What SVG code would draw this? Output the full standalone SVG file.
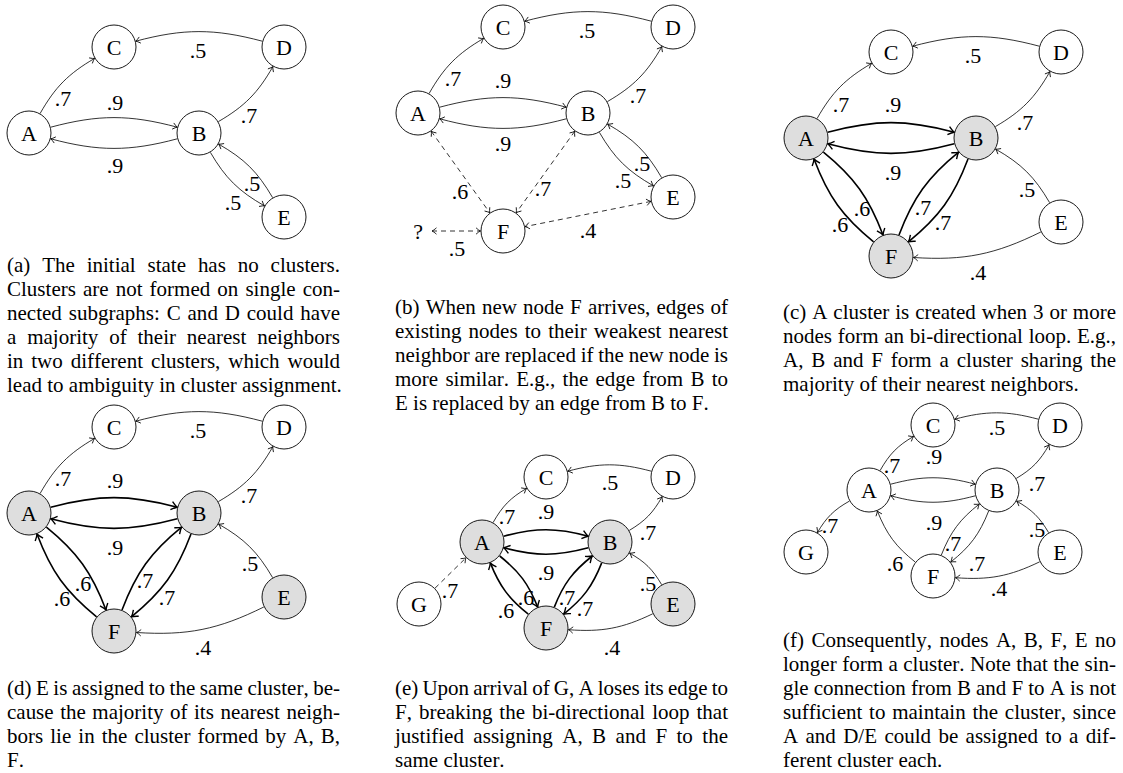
<svg xmlns="http://www.w3.org/2000/svg" width="1123" height="773" viewBox="0 0 1123 773">
<defs>
<marker id="ar" markerUnits="userSpaceOnUse" orient="auto" markerWidth="12" markerHeight="12" refX="0" refY="0" overflow="visible"><path d="M-4.5,-3.2 Q-1.6,-0.6 0,0 Q-1.6,0.6 -4.5,3.2" fill="none" stroke="#000" stroke-width="0.8"/></marker>
<marker id="arS" markerUnits="userSpaceOnUse" orient="auto-start-reverse" markerWidth="12" markerHeight="12" refX="0" refY="0" overflow="visible"><path d="M-4.5,-3.2 Q-1.6,-0.6 0,0 Q-1.6,0.6 -4.5,3.2" fill="none" stroke="#000" stroke-width="0.8"/></marker>
<marker id="arT" markerUnits="userSpaceOnUse" orient="auto" markerWidth="14" markerHeight="14" refX="0" refY="0" overflow="visible"><path d="M-6,-4.2 Q-2.2,-0.9 0,0 Q-2.2,0.9 -6,4.2" fill="none" stroke="#000" stroke-width="1.4"/></marker>
</defs>
<style>
.n circle{stroke:#000;stroke-width:0.9;fill:#fff}
.n.g circle{fill:#dedede}
.n text,.lb{font-family:"Liberation Serif","Times New Roman",serif;font-size:22px;text-anchor:middle;fill:#000}
.e{fill:none;stroke:#000;stroke-width:0.8;marker-end:url(#ar)}
.t{stroke-width:1.6;marker-end:url(#arT)}
.d{stroke-dasharray:5 4;marker-start:url(#arS);marker-end:url(#arS)}
.d1{stroke-dasharray:5 4}
.cap{font-family:"Liberation Serif","Times New Roman",serif;font-size:21px;fill:#000;font-kerning:none}
</style>

<!-- Panel (a) -->
<g id="panel-a" transform="translate(114,47)">
<g id="a-edges">
<path class="e" d="M148.3,-5.8 C100.4,-18.6 69.5,-18.6 21.7,-5.8"/>
<path class="e" d="M-73.9,66.5 C-58.9,40.1 -45.6,26.7 -19.4,11.4"/>
<path class="e" d="M-63.3,80.2 C-15.5,67.4 15.5,67.4 63.3,80.2"/>
<path class="e" d="M63.3,91.8 C15.5,104.6 -15.5,104.6 -63.3,91.8"/>
<path class="e" d="M104.4,74.6 C130.6,59.3 143.9,45.9 158.9,19.6"/>
<path class="e" d="M96.4,105.4 C111.4,131.1 124.6,144.1 150.5,158.9"/>
<path class="e" d="M158.6,150.6 C143.6,124.9 130.5,111.9 104.6,97.1"/>
<text class="lb" x="84" y="10.5">.5</text>
<text class="lb" x="-51" y="58.5">.7</text>
<text class="lb" x="1" y="62.5">.9</text>
<text class="lb" x="1" y="125.5">.9</text>
<text class="lb" x="135" y="75.5">.7</text>
<text class="lb" x="119" y="162.5">.5</text>
<text class="lb" x="138" y="143.5">.5</text>
</g>
<g id="a-C" class="n"><circle cx="0" cy="0" r="22"/><text x="0" y="7.5">C</text></g>
<g id="a-D" class="n"><circle cx="170" cy="0" r="22"/><text x="170" y="7.5">D</text></g>
<g id="a-A" class="n"><circle cx="-85" cy="86" r="22"/><text x="-85" y="93.5">A</text></g>
<g id="a-B" class="n"><circle cx="85" cy="86" r="22"/><text x="85" y="93.5">B</text></g>
<g id="a-E" class="n"><circle cx="170" cy="170" r="22"/><text x="170" y="177.5">E</text></g>
</g>

<!-- Panel (b) -->
<g id="panel-b" transform="translate(503,27)">
<g id="b-edges">
<path class="e" d="M148.3,-5.8 C100.4,-18.6 69.5,-18.6 21.7,-5.8"/>
<path class="e" d="M-73.9,66.5 C-58.9,40.1 -45.6,26.7 -19.4,11.4"/>
<path class="e" d="M-63.3,80.2 C-15.5,67.4 15.5,67.4 63.3,80.2"/>
<path class="e" d="M63.3,91.8 C15.5,104.6 -15.5,104.6 -63.3,91.8"/>
<path class="e" d="M104.4,74.6 C130.6,59.3 143.9,45.9 158.9,19.6"/>
<path class="e" d="M96.4,105.4 C111.4,131.1 124.6,144.1 150.5,158.9"/>
<path class="e" d="M158.6,150.6 C143.6,124.9 130.5,111.9 104.6,97.1"/>
<path class="e d" d="M-71.8,104.2 L-13.2,185.8"/>
<path class="e d" d="M71.8,104.2 L13.2,185.8"/>
<path class="e d" d="M148,174.4 L22,199.6"/>
<path class="e d" d="M-71,204 L-22.5,204"/>
<text class="lb" x="84" y="10.5">.5</text>
<text class="lb" x="-50" y="58.5">.7</text>
<text class="lb" x="0" y="60.5">.9</text>
<text class="lb" x="0" y="123.5">.9</text>
<text class="lb" x="135" y="75.5">.7</text>
<text class="lb" x="120" y="160.5">.5</text>
<text class="lb" x="139" y="143.5">.5</text>
<text class="lb" x="-43" y="171.5">.6</text>
<text class="lb" x="40" y="168.5">.7</text>
<text class="lb" x="85" y="210.5">.4</text>
<text class="lb" x="-46" y="228.5">.5</text>
<text class="lb" x="-85" y="211.5">?</text>
</g>
<g id="b-C" class="n"><circle cx="0" cy="0" r="22"/><text x="0" y="7.5">C</text></g>
<g id="b-D" class="n"><circle cx="170" cy="0" r="22"/><text x="170" y="7.5">D</text></g>
<g id="b-A" class="n"><circle cx="-85" cy="86" r="22"/><text x="-85" y="93.5">A</text></g>
<g id="b-B" class="n"><circle cx="85" cy="86" r="22"/><text x="85" y="93.5">B</text></g>
<g id="b-E" class="n"><circle cx="170" cy="170" r="22"/><text x="170" y="177.5">E</text></g>
<g id="b-F" class="n"><circle cx="0" cy="204" r="22"/><text x="0" y="211.5">F</text></g>
</g>

<!-- Panel (c) -->
<g id="panel-c" transform="translate(891,52)">
<g id="c-edges">
<path class="e" d="M148.3,-5.8 C100.4,-18.6 69.5,-18.6 21.7,-5.8"/>
<path class="e" d="M-73.9,66.5 C-58.9,40.1 -45.6,26.7 -19.4,11.4"/>
<path class="e t" d="M-63.3,80.2 C-15.5,67.4 15.5,67.4 63.3,80.2"/>
<path class="e t" d="M63.3,91.8 C15.5,104.6 -15.5,104.6 -63.3,91.8"/>
<path class="e" d="M104.4,74.6 C130.6,59.3 143.9,45.9 158.9,19.6"/>
<path class="e" d="M158.6,150.6 C143.6,124.9 130.5,111.9 104.6,97.1"/>
<path class="e" d="M149.8,180 C104.2,202.5 73.3,208.8 22.5,205.5"/>
<path class="e t" d="M-67.6,100.2 C-36.6,125.4 -22.2,145.7 -8,183"/>
<path class="e t" d="M-17.4,189.8 C-48.4,164.6 -62.9,144.4 -77,107"/>
<path class="e t" d="M8,183 C22.2,145.7 36.6,125.4 67.6,100.2"/>
<path class="e t" d="M77,107 C62.9,144.4 48.4,164.6 17.4,189.8"/>
<text class="lb" x="82" y="10.5">.5</text>
<text class="lb" x="-50" y="59.5">.7</text>
<text class="lb" x="2" y="59.5">.9</text>
<text class="lb" x="2" y="127.5">.9</text>
<text class="lb" x="134" y="77.5">.7</text>
<text class="lb" x="136" y="144.5">.5</text>
<text class="lb" x="87" y="227.5">.4</text>
<text class="lb" x="-29" y="163.5">.6</text>
<text class="lb" x="-51" y="179.5">.6</text>
<text class="lb" x="32" y="162.5">.7</text>
<text class="lb" x="52" y="177.5">.7</text>
</g>
<g id="c-C" class="n"><circle cx="0" cy="0" r="22"/><text x="0" y="7.5">C</text></g>
<g id="c-D" class="n"><circle cx="170" cy="0" r="22"/><text x="170" y="7.5">D</text></g>
<g id="c-A" class="n g"><circle cx="-85" cy="86" r="22"/><text x="-85" y="93.5">A</text></g>
<g id="c-B" class="n g"><circle cx="85" cy="86" r="22"/><text x="85" y="93.5">B</text></g>
<g id="c-E" class="n"><circle cx="170" cy="170" r="22"/><text x="170" y="177.5">E</text></g>
<g id="c-F" class="n g"><circle cx="0" cy="204" r="22"/><text x="0" y="211.5">F</text></g>
</g>

<!-- Panel (d) -->
<g id="panel-d" transform="translate(114,427)">
<g id="d-edges">
<path class="e" d="M148.3,-5.8 C100.4,-18.6 69.5,-18.6 21.7,-5.8"/>
<path class="e" d="M-73.9,66.5 C-58.9,40.1 -45.6,26.7 -19.4,11.4"/>
<path class="e t" d="M-63.3,80.2 C-15.5,67.4 15.5,67.4 63.3,80.2"/>
<path class="e t" d="M63.3,91.8 C15.5,104.6 -15.5,104.6 -63.3,91.8"/>
<path class="e" d="M104.4,74.6 C130.6,59.3 143.9,45.9 158.9,19.6"/>
<path class="e" d="M158.6,150.6 C143.6,124.9 130.5,111.9 104.6,97.1"/>
<path class="e" d="M149.8,180 C104.2,202.5 73.3,208.8 22.5,205.5"/>
<path class="e t" d="M-67.6,100.2 C-36.6,125.4 -22.2,145.7 -8,183"/>
<path class="e t" d="M-17.4,189.8 C-48.4,164.6 -62.9,144.4 -77,107"/>
<path class="e t" d="M8,183 C22.2,145.7 36.6,125.4 67.6,100.2"/>
<path class="e t" d="M77,107 C62.9,144.4 48.4,164.6 17.4,189.8"/>
<text class="lb" x="84" y="10.5">.5</text>
<text class="lb" x="-51" y="58.5">.7</text>
<text class="lb" x="1" y="60.5">.9</text>
<text class="lb" x="1" y="127.5">.9</text>
<text class="lb" x="135" y="75.5">.7</text>
<text class="lb" x="136" y="143.5">.5</text>
<text class="lb" x="89" y="227.5">.4</text>
<text class="lb" x="-31" y="163.5">.6</text>
<text class="lb" x="-52" y="178.5">.6</text>
<text class="lb" x="31" y="160.5">.7</text>
<text class="lb" x="53" y="177.5">.7</text>
</g>
<g id="d-C" class="n"><circle cx="0" cy="0" r="22"/><text x="0" y="7.5">C</text></g>
<g id="d-D" class="n"><circle cx="170" cy="0" r="22"/><text x="170" y="7.5">D</text></g>
<g id="d-A" class="n g"><circle cx="-85" cy="86" r="22"/><text x="-85" y="93.5">A</text></g>
<g id="d-B" class="n g"><circle cx="85" cy="86" r="22"/><text x="85" y="93.5">B</text></g>
<g id="d-E" class="n g"><circle cx="170" cy="170" r="22"/><text x="170" y="177.5">E</text></g>
<g id="d-F" class="n g"><circle cx="0" cy="204" r="22"/><text x="0" y="211.5">F</text></g>
</g>

<!-- Panel (e) -->
<g id="panel-e" transform="translate(546,477)">
<g id="e-edges">
<path class="e" d="M105.3,-5.8 C73.7,-14.3 53.3,-14.3 21.7,-5.8"/>
<path class="e" d="M-52.9,45.5 C-43.6,29.2 -35.6,20.8 -19.4,11.4"/>
<path class="e t" d="M-42.3,59.2 C-10.3,50.6 10.3,50.6 42.3,59.2"/>
<path class="e t" d="M42.3,70.8 C10.3,79.4 -10.3,79.4 -42.3,70.8"/>
<path class="e" d="M83.3,53.4 C99.1,44 107.1,35.8 116.1,19.7"/>
<path class="e" d="M115.6,107.6 C106.7,92.4 98.9,84.7 83.6,76.1"/>
<path class="e" d="M106.7,136.8 C76.4,151.4 56,155.2 22.5,152.7"/>
<path class="e t" d="M-46.3,79 C-26.8,94.4 -17.5,106.9 -8.3,130.1"/>
<path class="e t" d="M-17.7,137.1 C-37.2,121.6 -46.5,109.1 -55.7,85.9"/>
<path class="e t" d="M8.3,130.1 C17.5,106.9 26.8,94.4 46.3,79"/>
<path class="e t" d="M55.7,85.9 C46.5,109.1 37.2,121.6 17.7,137.1"/>
<path class="e d1" d="M-111,111.2 L-80,80.8"/>
<text class="lb" x="64" y="12.5">.5</text>
<text class="lb" x="-39" y="46.5">.7</text>
<text class="lb" x="0" y="41.5">.9</text>
<text class="lb" x="0" y="102.5">.9</text>
<text class="lb" x="102" y="62.5">.7</text>
<text class="lb" x="102" y="113.5">.5</text>
<text class="lb" x="-96" y="120.5">.7</text>
<text class="lb" x="-20" y="127.5">.6</text>
<text class="lb" x="-40" y="140.5">.6</text>
<text class="lb" x="21" y="127.5">.7</text>
<text class="lb" x="39" y="138.5">.7</text>
<text class="lb" x="66" y="177.5">.4</text>
</g>
<g id="e-C" class="n"><circle cx="0" cy="0" r="22"/><text x="0" y="7.5">C</text></g>
<g id="e-D" class="n"><circle cx="127" cy="0" r="22"/><text x="127" y="7.5">D</text></g>
<g id="e-A" class="n g"><circle cx="-64" cy="65" r="22"/><text x="-64" y="72.5">A</text></g>
<g id="e-B" class="n g"><circle cx="64" cy="65" r="22"/><text x="64" y="72.5">B</text></g>
<g id="e-E" class="n g"><circle cx="127" cy="127" r="22"/><text x="127" y="134.5">E</text></g>
<g id="e-F" class="n g"><circle cx="0" cy="151" r="22"/><text x="0" y="158.5">F</text></g>
<g id="e-G" class="n"><circle cx="-127" cy="127" r="22"/><text x="-127" y="134.5">G</text></g>
</g>

<!-- Panel (f) -->
<g id="panel-f" transform="translate(933,425)">
<g id="f-edges">
<path class="e" d="M105.3,-5.8 C73.7,-14.3 53.3,-14.3 21.7,-5.8"/>
<path class="e" d="M-52.9,45.5 C-43.6,29.2 -35.6,20.8 -19.4,11.4"/>
<path class="e" d="M-42.3,59.2 C-10.3,50.6 10.3,50.6 42.3,59.2"/>
<path class="e" d="M42.3,70.8 C10.3,79.4 -10.3,79.4 -42.3,70.8"/>
<path class="e" d="M83.3,53.4 C99.1,44 107.1,35.8 116.1,19.7"/>
<path class="e" d="M115.6,107.6 C106.7,92.4 98.9,84.7 83.6,76.1"/>
<path class="e" d="M106.7,136.8 C76.4,151.4 56,155.2 22.5,152.7"/>
<path class="e" d="M-17.7,137.1 C-37.2,121.6 -46.5,109.1 -55.7,85.9"/>
<path class="e" d="M8.3,130.1 C17.5,106.9 26.8,94.4 46.3,79"/>
<path class="e" d="M55.7,85.9 C46.5,109.1 37.2,121.6 17.7,137.1"/>
<path class="e" d="M-83.6,76.1 C-98.9,84.7 -106.7,92.4 -115.6,107.6"/>
<text class="lb" x="64" y="9.5">.5</text>
<text class="lb" x="-41" y="47.5">.7</text>
<text class="lb" x="1" y="38.5">.9</text>
<text class="lb" x="1" y="104.5">.9</text>
<text class="lb" x="104" y="65.5">.7</text>
<text class="lb" x="104" y="111.5">.5</text>
<text class="lb" x="-103" y="107.5">.7</text>
<text class="lb" x="-38" y="145.5">.6</text>
<text class="lb" x="20" y="125.5">.7</text>
<text class="lb" x="44" y="145.5">.7</text>
<text class="lb" x="66" y="170.5">.4</text>
</g>
<g id="f-C" class="n"><circle cx="0" cy="0" r="22"/><text x="0" y="7.5">C</text></g>
<g id="f-D" class="n"><circle cx="127" cy="0" r="22"/><text x="127" y="7.5">D</text></g>
<g id="f-A" class="n"><circle cx="-64" cy="65" r="22"/><text x="-64" y="72.5">A</text></g>
<g id="f-B" class="n"><circle cx="64" cy="65" r="22"/><text x="64" y="72.5">B</text></g>
<g id="f-E" class="n"><circle cx="127" cy="127" r="22"/><text x="127" y="134.5">E</text></g>
<g id="f-F" class="n"><circle cx="0" cy="151" r="22"/><text x="0" y="158.5">F</text></g>
<g id="f-G" class="n"><circle cx="-127" cy="127" r="22"/><text x="-127" y="134.5">G</text></g>
</g>

<!-- Captions -->
<g id="captions" class="cap">
<text x="7" y="272" textLength="333" style="word-spacing:6.6px">(a) The initial state has no clusters.</text>
<text x="7" y="296" textLength="333" style="word-spacing:1.8px">Clusters are not formed on single con-</text>
<text x="7" y="320" textLength="333" style="word-spacing:1.6px">nected subgraphs: C and D could have</text>
<text x="7" y="344" textLength="333" style="word-spacing:5.6px">a majority of their nearest neighbors</text>
<text x="7" y="368" textLength="333" style="word-spacing:2.7px">in two different clusters, which would</text>
<text x="7" y="392">lead to ambiguity in cluster assignment.</text>

<text x="395" y="314" textLength="333" style="word-spacing:0.9px">(b) When new node F arrives, edges of</text>
<text x="395" y="338" textLength="333" style="word-spacing:1.9px">existing nodes to their weakest nearest</text>
<text x="395" y="362" textLength="333" style="word-spacing:-0.5px">neighbor are replaced if the new node is</text>
<text x="395" y="386" textLength="333" style="word-spacing:2px">more similar. E.g., the edge from B to</text>
<text x="395" y="410">E is replaced by an edge from B to F.</text>

<text x="783" y="319" textLength="333" style="word-spacing:0.7px">(c) A cluster is created when 3 or more</text>
<text x="783" y="343" textLength="333" style="word-spacing:0.5px">nodes form an bi-directional loop. E.g.,</text>
<text x="783" y="367" textLength="333" style="word-spacing:2.6px">A, B and F form a cluster sharing the</text>
<text x="783" y="391">majority of their nearest neighbors.</text>

<text x="7" y="695" textLength="333" style="word-spacing:-0.7px">(d) E is assigned to the same cluster, be-</text>
<text x="7" y="719" textLength="333" style="word-spacing:1.3px">cause the majority of its nearest neigh-</text>
<text x="7" y="743" textLength="333" style="word-spacing:1.8px">bors lie in the cluster formed by A, B,</text>
<text x="7" y="767">F.</text>

<text x="395" y="695" textLength="333" style="word-spacing:-1.1px">(e) Upon arrival of G, A loses its edge to</text>
<text x="395" y="719" textLength="333" style="word-spacing:1.7px">F, breaking the bi-directional loop that</text>
<text x="395" y="743" textLength="333" style="word-spacing:4.2px">justified assigning A, B and F to the</text>
<text x="395" y="767">same cluster.</text>

<text x="783" y="647" textLength="333" style="word-spacing:2.2px">(f) Consequently, nodes A, B, F, E no</text>
<text x="783" y="671" textLength="333" style="word-spacing:0.2px">longer form a cluster. Note that the sin-</text>
<text x="783" y="695" textLength="333" style="word-spacing:-0.1px">gle connection from B and F to A is not</text>
<text x="783" y="719" textLength="333" style="word-spacing:1.5px">sufficient to maintain the cluster, since</text>
<text x="783" y="743" textLength="333" style="word-spacing:2.1px">A and D/E could be assigned to a dif-</text>
<text x="783" y="767">ferent cluster each.</text>
</g>
</svg>
